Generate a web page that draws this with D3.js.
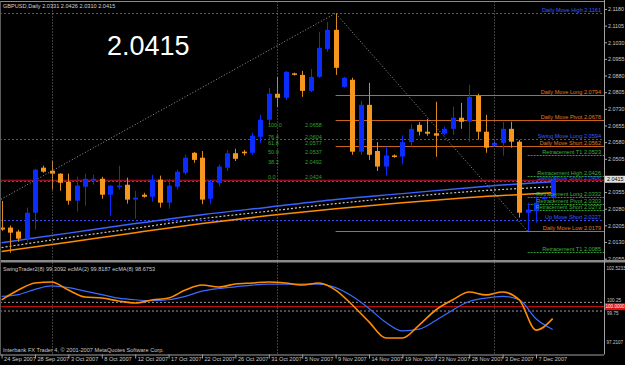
<!DOCTYPE html>
<html>
<head>
<meta charset="utf-8">
<script src="https://cdn.jsdelivr.net/npm/d3@7"></script>
<style>
  html, body { margin: 0; padding: 0; background: #000; }
  svg { display: block; }
  text { font-family: "Liberation Sans", Arial, sans-serif; }
</style>
</head>
<body>
<div class="chart-wrapper"></div>
<script>
// daily bars, 24 Sep 2007 .. 10 Dec 2007 (sunday bars included)
const opens  = [2.0195,2.0195,2.0177,2.0145,2.0262,2.0465,2.0451,2.0438,2.0402,2.0316,2.0379,2.0406,2.0415,2.0343,2.0380,2.0388,2.0321,2.0343,2.0334,2.0411,2.0307,2.0379,2.0442,2.0532,2.0510,2.0325,2.0395,2.0465,2.0530,2.0537,2.0532,2.0604,2.0681,2.0798,2.0780,2.0890,2.0883,2.0811,2.0874,2.1000,2.1086,2.0829,2.0861,2.0537,2.0748,2.0540,2.0470,2.0520,2.0515,2.0580,2.0658,2.0627,2.0620,2.0618,2.0640,2.0690,2.0672,2.0789,2.0627,2.0564,2.0577,2.0640,2.0582,2.0262,2.0271,2.0325,2.0331];
const highs  = [2.0315,2.0204,2.0185,2.0285,2.0460,2.0474,2.0496,2.0440,2.0438,2.0424,2.0438,2.0433,2.0424,2.0386,2.0474,2.0420,2.0361,2.0352,2.0433,2.0429,2.0415,2.0456,2.0523,2.0536,2.0540,2.0410,2.0480,2.0545,2.0550,2.0545,2.0622,2.0703,2.0825,2.0874,2.0901,2.0893,2.0901,2.0910,2.1077,2.1122,2.1161,2.0874,2.0870,2.0766,2.0847,2.0580,2.0560,2.0525,2.0610,2.0660,2.0670,2.0685,2.0762,2.0650,2.0739,2.0757,2.0838,2.0798,2.0703,2.0586,2.0672,2.0672,2.0590,2.0307,2.0334,2.0335,2.0426];
const lows   = [2.0180,2.0082,2.0131,2.0127,2.0186,2.0442,2.0366,2.0361,2.0298,2.0267,2.0294,2.0388,2.0325,2.0249,2.0366,2.0303,2.0235,2.0330,2.0312,2.0285,2.0280,2.0366,2.0433,2.0487,2.0300,2.0300,2.0380,2.0450,2.0495,2.0520,2.0523,2.0577,2.0658,2.0739,2.0770,2.0880,2.0784,2.0806,2.0870,2.0987,2.0883,2.0825,2.0523,2.0523,2.0500,2.0450,2.0430,2.0510,2.0480,2.0560,2.0610,2.0609,2.0514,2.0613,2.0613,2.0640,2.0582,2.0591,2.0532,2.0559,2.0519,2.0555,2.0240,2.0179,2.0217,2.0322,2.0310];
const closes = [2.0186,2.0172,2.0145,2.0262,2.0456,2.0447,2.0438,2.0397,2.0316,2.0384,2.0415,2.0415,2.0343,2.0384,2.0384,2.0321,2.0330,2.0334,2.0411,2.0307,2.0384,2.0447,2.0510,2.0500,2.0321,2.0400,2.0470,2.0530,2.0505,2.0530,2.0609,2.0681,2.0798,2.0780,2.0897,2.0884,2.0811,2.0874,2.1005,2.1086,2.0915,2.0870,2.0537,2.0748,2.0523,2.0470,2.0520,2.0515,2.0580,2.0640,2.0627,2.0618,2.0609,2.0640,2.0690,2.0672,2.0784,2.0627,2.0555,2.0577,2.0640,2.0582,2.0262,2.0276,2.0307,2.0331,2.0415];

const dateLabels = ['24 Sep 2007','28 Sep 2007','3 Oct 2007','8 Oct 2007','12 Oct 2007','17 Oct 2007','22 Oct 2007','26 Oct 2007','31 Oct 2007','5 Nov 2007','9 Nov 2007','14 Nov 2007','19 Nov 2007','23 Nov 2007','28 Nov 2007','3 Dec 2007','7 Dec 2007'];
const priceTicks = [2.1180,2.1105,2.1030,2.0955,2.0880,2.0805,2.0730,2.0655,2.0580,2.0505,2.0430,2.0355,2.0280,2.0205,2.0130,2.0055];
const monthStartBars = [6, 33, 59];

// moving averages, read every 8 bars
const maBars   = [0, 8, 16, 24, 32, 40, 48, 56, 66];
const maBlue   = [2.0127,2.0170,2.0213,2.0253,2.0287,2.0321,2.0348,2.0375,2.0402];
const maGray   = [2.0105,2.0150,2.0192,2.0235,2.0269,2.0303,2.0332,2.0357,2.0379];
const maOrange = [2.0087,2.0129,2.0172,2.0213,2.0249,2.0280,2.0307,2.0330,2.0352];

// zigzag
const zigBars   = [-12, 40, 63];
const zigPrices = [2.0073, 2.1161, 2.0179];

// level lines
const levelNames  = ['Daily Move High','Daily Move Long','Daily Move Pivot','Swing Move Long','Daily Move Short','Retracement  T1','Retracement High','Swing Move Short','Retracement Long','Retracement Pivot','Retracement Short','Up Move Short','Daily Move Low','Retracement  T1'];
const levelValues = [2.1161,2.0794,2.0678,2.0594,2.0562,2.0523,2.0426,2.0406,2.0332,2.0303,2.0273,2.0227,2.0179,2.0085];
const levelKinds  = ['swing','daily','daily','swing','daily','retr','retr','swing','retr','retr','retr','swing','daily','retr'];
const levelFrom   = [-1,40,40,-1,40,63,63,-1,63,63,63,-1,40,63];
const redLine = 2.0415;

// fibo labels in the middle
const fiboLevels = [2.0658, 2.0604, 2.0577, 2.0537, 2.0492, 2.0424];
const fiboNames  = ['100.0', '76.4', '61.8', '50.0', '38.2', '0.0'];

// indicator window
const indBars  = d3.range(0, 67, 2);
const swingTr  = [100.39,100.96,101.37,101.43,100.96,100.56,100.50,100.33,100.21,100.39,100.50,100.96,101.25,101.14,101.31,101.37,101.43,101.37,101.25,101.37,100.96,100.10,99.12,98.19,98.19,98.94,99.81,100.39,100.85,100.68,100.85,100.39,98.65,99.31];
const ecma8    = [100.6,100.7,101.0,101.2,101.1,100.9,100.7,100.5,100.4,100.35,100.4,100.6,100.9,101.05,101.15,101.25,101.3,101.3,101.3,101.3,101.1,100.6,99.9,99.1,98.6,98.7,99.2,99.8,100.3,100.5,100.6,100.4,99.3,98.68];
const indMax = 102.5233, indMin = 97.2107;
const indLevels = [100.25, 99.75];

const dims = {
    width: 625,
    height: 365,
    plotRight: 604,
    mainTop: 1.5,
    mainBottom: 260,
    indTop: 262.5,
    indBottom: 354.5,
};

const svg = d3.select('.chart-wrapper')
    .append('svg')
    .attr('width', dims.width)
    .attr('height', dims.height)
    .style('background', '#000');

const xScale = d3.scaleLinear().domain([0, 66]).range([1.6, 552.7]);
const yScale = d3.scaleLinear().domain([2.0130, 2.1180]).range([242, 9]);
const iScale = d3.scaleLinear().domain([indMin, indMax]).range([355, 263]);

const defs = svg.append('defs');
defs.append('clipPath').attr('id', 'clipMain')
    .append('rect').attr('x', 0).attr('y', dims.mainTop).attr('width', dims.plotRight).attr('height', dims.mainBottom - dims.mainTop);
defs.append('clipPath').attr('id', 'clipInd')
    .append('rect').attr('x', 0).attr('y', dims.indTop).attr('width', dims.plotRight).attr('height', dims.indBottom - dims.indTop);

const main = svg.append('g').attr('clip-path', 'url(#clipMain)');
const ind = svg.append('g').attr('clip-path', 'url(#clipInd)');

// month separators
monthStartBars.forEach(b => {
    svg.append('line')
        .attr('x1', Math.round(xScale(b)) + 0.5).attr('x2', Math.round(xScale(b)) + 0.5)
        .attr('y1', dims.mainTop).attr('y2', dims.indBottom)
        .attr('stroke', '#7a7a7a').attr('stroke-dasharray', '1,2');
});

const colors = {
    swing: '#2f4cff',
    daily: '#c8641e',
    retr: '#2f9a2f',
    bull: '#0a2cff',
    bear: '#f7961e',
};

// level lines
levelValues.forEach((v, i) => {
    const kind = levelKinds[i];
    const y = Math.round(yScale(v)) + 0.5;
    const x1 = levelFrom[i] < 0 ? 0 : xScale(levelFrom[i]);
    main.append('line')
        .attr('x1', x1).attr('x2', dims.plotRight)
        .attr('y1', y).attr('y2', y)
        .attr('stroke', colors[kind])
        .attr('stroke-width', 1)
        .attr('stroke-dasharray', kind === 'daily' ? null : (kind === 'retr' ? '2,1' : '2,2'));
});

main.append('line')
    .attr('x1', 0).attr('x2', dims.plotRight)
    .attr('y1', yScale(redLine) + 1.5).attr('y2', yScale(redLine) + 1.5)
    .attr('stroke', '#c0102a').attr('stroke-width', 1.2);

// zigzag
const zigLine = d3.line().x(d => xScale(d[0])).y(d => yScale(d[1]));
main.append('path')
    .attr('d', zigLine(zigBars.map((b, i) => [b, zigPrices[i]])))
    .attr('fill', 'none').attr('stroke', '#9a9a9a').attr('stroke-dasharray', '1,2');

// moving averages
const maLine = d3.line().x((d, i) => xScale(maBars[i])).y(d => yScale(d)).curve(d3.curveMonotoneX);
main.append('path').attr('d', maLine(maOrange)).attr('fill', 'none').attr('stroke', '#ff8c00').attr('stroke-width', 1.5);
main.append('path').attr('d', maLine(maGray)).attr('fill', 'none').attr('stroke', '#c8c8c8').attr('stroke-width', 1.2).attr('stroke-dasharray', '2,2');
main.append('path').attr('d', maLine(maBlue)).attr('fill', 'none').attr('stroke', '#3a62ff').attr('stroke-width', 1.5);

// candles
const bars = opens.map((o, i) => ({ i, o, h: highs[i], l: lows[i], c: closes[i] }));
const candle = main.selectAll('.candle').data(bars).join('g').attr('class', 'candle');
candle.append('line')
    .attr('x1', d => Math.round(xScale(d.i)) + 0.5)
    .attr('x2', d => Math.round(xScale(d.i)) + 0.5)
    .attr('y1', d => yScale(d.h))
    .attr('y2', d => yScale(d.l))
    .attr('stroke', d => d.c >= d.o ? colors.bull : '#d88a20');
candle.append('rect')
    .attr('x', d => Math.round(xScale(d.i)) - 2)
    .attr('width', 5)
    .attr('y', d => yScale(Math.max(d.o, d.c)))
    .attr('height', d => Math.max(1.5, Math.abs(yScale(d.o) - yScale(d.c))))
    .attr('fill', d => d.c >= d.o ? colors.bull : colors.bear);

// level labels
levelValues.forEach((v, i) => {
    main.append('text')
        .attr('x', 601).attr('y', yScale(v) - 1)
        .attr('text-anchor', 'end')
        .attr('font-size', '5.6px')
        .attr('fill', levelKinds[i] === 'daily' ? '#e07a20' : (levelKinds[i] === 'retr' ? '#3fb03f' : '#3a5cff'))
        .text(`${levelNames[i]}  ${v.toFixed(4)}`);
});

// fibo text
fiboLevels.forEach((v, i) => {
    main.append('text').attr('x', 268).attr('y', yScale(v) + 2)
        .attr('font-size', '5.5px').attr('fill', '#2fa02f').text(fiboNames[i]);
    main.append('text').attr('x', 305).attr('y', yScale(v) + 2)
        .attr('font-size', '5.5px').attr('fill', '#2fa02f').text(v.toFixed(4));
});

// header texts
svg.append('text').attr('x', 3).attr('y', 8).attr('font-size', '5.6px').attr('fill', '#d0d0d0')
    .text(`GBPUSD,Daily  ${opens[66].toFixed(4)} ${highs[66].toFixed(4)} ${lows[66].toFixed(4)} ${closes[66].toFixed(4)}`);
svg.append('text').attr('x', 107).attr('y', 55).attr('font-size', '27px').attr('fill', '#ffffff')
    .text(closes[66].toFixed(4));

// right price axis (labels hidden under the bid box are skipped)
const bidY = yScale(closes[66]);
const yAxis = d3.axisRight(yScale)
    .tickValues(priceTicks.filter(v => Math.abs(yScale(v) - bidY) > 6))
    .tickSize(3).tickFormat(d3.format('.4f'));
const yAxisG = svg.append('g').attr('transform', `translate(${dims.plotRight},0)`).call(yAxis);
yAxisG.select('.domain').remove();
yAxisG.selectAll('line').attr('stroke', '#a0a0a0');
yAxisG.selectAll('text').attr('fill', '#c8c8c8').attr('font-size', '5.4px').attr('x', 4);

// bid box
svg.append('rect').attr('x', dims.plotRight + 1).attr('y', bidY - 3).attr('width', 20).attr('height', 7)
    .attr('fill', '#e0e0e0');
svg.append('text').attr('x', dims.plotRight + 3).attr('y', bidY + 2.5).attr('font-size', '5.4px').attr('fill', '#000')
    .text(closes[66].toFixed(4));

// indicator panel
indLevels.forEach(v => {
    ind.append('line').attr('x1', 0).attr('x2', dims.plotRight)
        .attr('y1', iScale(v)).attr('y2', iScale(v))
        .attr('stroke', '#9a9a9a').attr('stroke-dasharray', '2,2');
});
ind.append('line').attr('x1', 0).attr('x2', dims.plotRight)
    .attr('y1', iScale(100)).attr('y2', iScale(100))
    .attr('stroke', '#e01010').attr('stroke-width', 1);

const indLine = d3.line().x((d, i) => xScale(indBars[i])).y(d => iScale(d)).curve(d3.curveMonotoneX);
ind.append('path').attr('d', indLine(ecma8)).attr('fill', 'none').attr('stroke', '#3a6cff').attr('stroke-width', 1.2);
ind.append('path').attr('d', indLine(swingTr)).attr('fill', 'none').attr('stroke', '#ff8c00').attr('stroke-width', 1.6);

svg.append('text').attr('x', 3).attr('y', 271).attr('font-size', '5.6px').attr('fill', '#c8c8c8')
    .text('SwingTrader2(8) 99.3092   ecMA(2) 99.8187   ecMA(8) 98.6753');
svg.append('text').attr('x', 3).attr('y', 352).attr('font-size', '5.6px').attr('fill', '#c8c8c8')
    .text('Interbank FX Trader 4, © 2001-2007 MetaQuotes Software Corp.');

// indicator axis labels
[indMax, indMin].forEach((v, i) => {
    svg.append('text').attr('x', dims.plotRight + 2.5).attr('y', i === 0 ? 270 : 344)
        .attr('font-size', '4.6px').attr('fill', '#c8c8c8').text(v.toFixed(4));
});
svg.append('rect').attr('x', dims.plotRight + 1).attr('y', iScale(100) - 3.5).attr('width', 20).attr('height', 7).attr('fill', '#e01010');
svg.append('text').attr('x', dims.plotRight + 1.5).attr('y', iScale(100) + 1.8).attr('font-size', '4.6px').attr('fill', '#ffffff').text('100.0000');
indLevels.forEach(v => {
    svg.append('text').attr('x', dims.plotRight + 3).attr('y', iScale(v) + (v > 100 ? -0.5 : 4))
        .attr('font-size', '4.6px').attr('fill', '#c8c8c8').text(v.toFixed(2));
});

// frames
svg.append('line').attr('x1', 0).attr('x2', dims.plotRight).attr('y1', dims.mainTop).attr('y2', dims.mainTop).attr('stroke', '#8a8a8a');
svg.append('rect').attr('x', 0).attr('y', dims.mainBottom).attr('width', dims.width).attr('height', 2.5).attr('fill', '#8a8a8a');
svg.append('line').attr('x1', dims.plotRight + 0.5).attr('x2', dims.plotRight + 0.5).attr('y1', 0).attr('y2', dims.indBottom).attr('stroke', '#a0a0a0');
svg.append('line').attr('x1', 0.5).attr('x2', 0.5).attr('y1', dims.mainTop).attr('y2', dims.indBottom).attr('stroke', '#5a5a5a');

// date axis
const xAxis = d3.axisBottom(xScale).tickValues(d3.range(0, 65, 4)).tickSize(4).tickFormat((d, i) => dateLabels[i]);
const xAxisG = svg.append('g').attr('transform', `translate(0,${dims.indBottom})`).call(xAxis);
xAxisG.select('.domain').attr('stroke', '#a0a0a0').attr('d', `M0,0.5H${dims.plotRight}`);
xAxisG.selectAll('line').attr('stroke', '#a0a0a0');
xAxisG.selectAll('text').attr('fill', '#c8c8c8').attr('font-size', '5.6px')
    .attr('text-anchor', 'start').attr('x', 2).attr('y', 3).attr('dy', '0.71em');
</script>
</body>
</html>
